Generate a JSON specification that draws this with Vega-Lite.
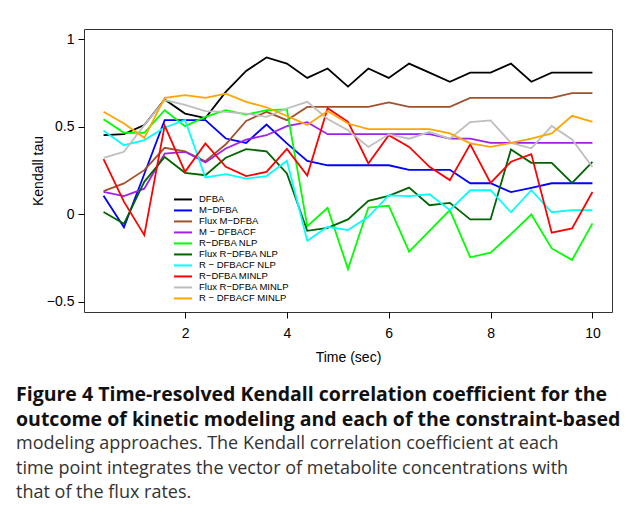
{
  "$schema": "https://vega.github.io/schema/vega-lite/v6.json",
  "width": 528,
  "height": 283,
  "autosize": {"type": "none"},
  "padding": {"left": 84, "top": 29, "right": 17, "bottom": 204},
  "background": "white",
  "config": {
    "view": {"stroke": "#333333", "strokeWidth": 1},
    "font": "Liberation Sans"
  },
  "title": {
    "text": ["Figure 4 Time-resolved Kendall correlation coefficient for the", "outcome of kinetic modeling and each of the constraint-based"],
    "subtitle": ["modeling approaches. The Kendall correlation coefficient at each", "time point integrates the vector of metabolite concentrations with", "that of the flux rates."],
    "orient": "bottom",
    "anchor": "start",
    "frame": "group",
    "dx": -68,
    "offset": 22,
    "font": "Open Sans",
    "fontSize": 19.5,
    "fontWeight": "bold",
    "lineHeight": 24.5,
    "color": "#111111",
    "subtitleFont": "Open Sans",
    "subtitleFontSize": 18,
    "subtitleFontWeight": "normal",
    "subtitleLineHeight": 24.5,
    "subtitleColor": "#333333",
    "subtitlePadding": 5
  },
  "data": {
    "values": [
      {"t": 0.4, "DFBA": 0.452, "M−DFBA": 0.105, "Flux M−DFBA": 0.132, "M − DFBACF": 0.127, "R−DFBA NLP": 0.544, "Flux R−DFBA NLP": 0.012, "R − DFBACF NLP": 0.477, "R−DFBA MINLP": 0.315, "Flux R−DFBA MINLP": 0.322, "R − DFBACF MINLP": 0.586},
      {"t": 0.8, "DFBA": 0.458, "M−DFBA": -0.075, "Flux M−DFBA": 0.176, "M − DFBACF": 0.103, "R−DFBA NLP": 0.466, "Flux R−DFBA NLP": -0.055, "R − DFBACF NLP": 0.395, "R−DFBA MINLP": 0.072, "Flux R−DFBA MINLP": 0.357, "R − DFBACF MINLP": 0.519},
      {"t": 1.2, "DFBA": 0.51, "M−DFBA": 0.23, "Flux M−DFBA": 0.252, "M − DFBACF": 0.146, "R−DFBA NLP": 0.466, "Flux R−DFBA NLP": 0.185, "R − DFBACF NLP": 0.424, "R−DFBA MINLP": -0.12, "Flux R−DFBA MINLP": 0.51, "R − DFBACF MINLP": 0.437},
      {"t": 1.6, "DFBA": 0.657, "M−DFBA": 0.538, "Flux M−DFBA": 0.38, "M − DFBACF": 0.347, "R−DFBA NLP": 0.595, "Flux R−DFBA NLP": 0.327, "R − DFBACF NLP": 0.496, "R−DFBA MINLP": 0.507, "Flux R−DFBA MINLP": 0.653, "R − DFBACF MINLP": 0.666},
      {"t": 2.0, "DFBA": 0.576, "M−DFBA": 0.538, "Flux M−DFBA": 0.36, "M − DFBACF": 0.357, "R−DFBA NLP": 0.504, "Flux R−DFBA NLP": 0.237, "R − DFBACF NLP": 0.538, "R−DFBA MINLP": 0.242, "Flux R−DFBA MINLP": 0.625, "R − DFBACF MINLP": 0.681},
      {"t": 2.4, "DFBA": 0.55, "M−DFBA": 0.538, "Flux M−DFBA": 0.303, "M − DFBACF": 0.296, "R−DFBA NLP": 0.557, "Flux R−DFBA NLP": 0.223, "R − DFBACF NLP": 0.21, "R−DFBA MINLP": 0.405, "Flux R−DFBA MINLP": 0.59, "R − DFBACF MINLP": 0.666},
      {"t": 2.8, "DFBA": 0.70, "M−DFBA": 0.433, "Flux M−DFBA": 0.40, "M − DFBACF": 0.376, "R−DFBA NLP": 0.595, "Flux R−DFBA NLP": 0.323, "R − DFBACF NLP": 0.229, "R−DFBA MINLP": 0.271, "Flux R−DFBA MINLP": 0.586, "R − DFBACF MINLP": 0.69},
      {"t": 3.2, "DFBA": 0.82, "M−DFBA": 0.408, "Flux M−DFBA": 0.534, "M − DFBACF": 0.427, "R−DFBA NLP": 0.57, "Flux R−DFBA NLP": 0.372, "R − DFBACF NLP": 0.204, "R−DFBA MINLP": 0.218, "Flux R−DFBA MINLP": 0.576, "R − DFBACF MINLP": 0.643},
      {"t": 3.6, "DFBA": 0.897, "M−DFBA": 0.513, "Flux M−DFBA": 0.586, "M − DFBACF": 0.452, "R−DFBA NLP": 0.595, "Flux R−DFBA NLP": 0.36, "R − DFBACF NLP": 0.218, "R−DFBA MINLP": 0.242, "Flux R−DFBA MINLP": 0.557, "R − DFBACF MINLP": 0.612},
      {"t": 4.0, "DFBA": 0.862, "M−DFBA": 0.405, "Flux M−DFBA": 0.538, "M − DFBACF": 0.504, "R−DFBA NLP": 0.60, "Flux R−DFBA NLP": 0.233, "R − DFBACF NLP": 0.305, "R−DFBA MINLP": 0.373, "Flux R−DFBA MINLP": 0.605, "R − DFBACF MINLP": 0.562},
      {"t": 4.4, "DFBA": 0.78, "M−DFBA": 0.305, "Flux M−DFBA": 0.614, "M − DFBACF": 0.527, "R−DFBA NLP": -0.069, "Flux R−DFBA NLP": -0.095, "R − DFBACF NLP": -0.152, "R−DFBA MINLP": 0.221, "Flux R−DFBA MINLP": 0.643, "R − DFBACF MINLP": 0.511},
      {"t": 4.8, "DFBA": 0.834, "M−DFBA": 0.28, "Flux M−DFBA": 0.614, "M − DFBACF": 0.458, "R−DFBA NLP": 0.036, "Flux R−DFBA NLP": -0.078, "R − DFBACF NLP": -0.072, "R−DFBA MINLP": 0.607, "Flux R−DFBA MINLP": 0.545, "R − DFBACF MINLP": 0.59},
      {"t": 5.2, "DFBA": 0.73, "M−DFBA": 0.28, "Flux M−DFBA": 0.614, "M − DFBACF": 0.458, "R−DFBA NLP": -0.314, "Flux R−DFBA NLP": -0.03, "R − DFBACF NLP": -0.091, "R−DFBA MINLP": 0.529, "Flux R−DFBA MINLP": 0.48, "R − DFBACF MINLP": 0.519},
      {"t": 5.6, "DFBA": 0.834, "M−DFBA": 0.28, "Flux M−DFBA": 0.614, "M − DFBACF": 0.458, "R−DFBA NLP": 0.038, "Flux R−DFBA NLP": 0.076, "R − DFBACF NLP": -0.015, "R−DFBA MINLP": 0.29, "Flux R−DFBA MINLP": 0.385, "R − DFBACF MINLP": 0.487},
      {"t": 6.0, "DFBA": 0.78, "M−DFBA": 0.28, "Flux M−DFBA": 0.64, "M − DFBACF": 0.458, "R−DFBA NLP": 0.049, "Flux R−DFBA NLP": 0.105, "R − DFBACF NLP": 0.108, "R−DFBA MINLP": 0.452, "Flux R−DFBA MINLP": 0.457, "R − DFBACF MINLP": 0.487},
      {"t": 6.4, "DFBA": 0.862, "M−DFBA": 0.254, "Flux M−DFBA": 0.614, "M − DFBACF": 0.458, "R−DFBA NLP": -0.215, "Flux R−DFBA NLP": 0.152, "R − DFBACF NLP": 0.103, "R−DFBA MINLP": 0.385, "Flux R−DFBA MINLP": 0.432, "R − DFBACF MINLP": 0.487},
      {"t": 6.8, "DFBA": 0.81, "M−DFBA": 0.254, "Flux M−DFBA": 0.614, "M − DFBACF": 0.458, "R−DFBA NLP": -0.095, "Flux R−DFBA NLP": 0.051, "R − DFBACF NLP": 0.114, "R−DFBA MINLP": 0.271, "Flux R−DFBA MINLP": 0.47, "R − DFBACF MINLP": 0.487},
      {"t": 7.2, "DFBA": 0.758, "M−DFBA": 0.254, "Flux M−DFBA": 0.614, "M − DFBACF": 0.433, "R−DFBA NLP": 0.023, "Flux R−DFBA NLP": 0.065, "R − DFBACF NLP": 0.023, "R−DFBA MINLP": 0.195, "Flux R−DFBA MINLP": 0.432, "R − DFBACF MINLP": 0.462},
      {"t": 7.6, "DFBA": 0.81, "M−DFBA": 0.177, "Flux M−DFBA": 0.666, "M − DFBACF": 0.433, "R−DFBA NLP": -0.247, "Flux R−DFBA NLP": -0.03, "R − DFBACF NLP": 0.137, "R−DFBA MINLP": 0.40, "Flux R−DFBA MINLP": 0.527, "R − DFBACF MINLP": 0.405},
      {"t": 8.0, "DFBA": 0.81, "M−DFBA": 0.177, "Flux M−DFBA": 0.666, "M − DFBACF": 0.408, "R−DFBA NLP": -0.22, "Flux R−DFBA NLP": -0.03, "R − DFBACF NLP": 0.137, "R−DFBA MINLP": 0.179, "Flux R−DFBA MINLP": 0.537, "R − DFBACF MINLP": 0.385},
      {"t": 8.4, "DFBA": 0.862, "M−DFBA": 0.126, "Flux M−DFBA": 0.666, "M − DFBACF": 0.408, "R−DFBA NLP": -0.114, "Flux R−DFBA NLP": 0.37, "R − DFBACF NLP": 0.011, "R−DFBA MINLP": 0.30, "Flux R−DFBA MINLP": 0.408, "R − DFBACF MINLP": 0.408},
      {"t": 8.8, "DFBA": 0.758, "M−DFBA": 0.151, "Flux M−DFBA": 0.666, "M − DFBACF": 0.408, "R−DFBA NLP": -0.002, "Flux R−DFBA NLP": 0.294, "R − DFBACF NLP": 0.137, "R−DFBA MINLP": 0.344, "Flux R−DFBA MINLP": 0.377, "R − DFBACF MINLP": 0.433},
      {"t": 9.2, "DFBA": 0.81, "M−DFBA": 0.177, "Flux M−DFBA": 0.666, "M − DFBACF": 0.408, "R−DFBA NLP": -0.196, "Flux R−DFBA NLP": 0.294, "R − DFBACF NLP": 0.011, "R−DFBA MINLP": -0.106, "Flux R−DFBA MINLP": 0.505, "R − DFBACF MINLP": 0.462},
      {"t": 9.6, "DFBA": 0.81, "M−DFBA": 0.177, "Flux M−DFBA": 0.693, "M − DFBACF": 0.408, "R−DFBA NLP": -0.262, "Flux R−DFBA NLP": 0.179, "R − DFBACF NLP": 0.023, "R−DFBA MINLP": -0.082, "Flux R−DFBA MINLP": 0.428, "R − DFBACF MINLP": 0.563},
      {"t": 10.0, "DFBA": 0.81, "M−DFBA": 0.177, "Flux M−DFBA": 0.693, "M − DFBACF": 0.408, "R−DFBA NLP": -0.053, "Flux R−DFBA NLP": 0.30, "R − DFBACF NLP": 0.023, "R−DFBA MINLP": 0.127, "Flux R−DFBA MINLP": 0.27, "R − DFBACF MINLP": 0.529}
    ]
  },
  "transform": [
    {"fold": ["DFBA", "M−DFBA", "Flux M−DFBA", "M − DFBACF", "R−DFBA NLP", "Flux R−DFBA NLP", "R − DFBACF NLP", "R−DFBA MINLP", "Flux R−DFBA MINLP", "R − DFBACF MINLP"], "as": ["series", "tau"]}
  ],
  "mark": {"type": "line", "strokeWidth": 1.8},
  "encoding": {
    "x": {
      "field": "t",
      "type": "quantitative",
      "scale": {"domain": [0.016, 10.384], "nice": false, "zero": false},
      "axis": {
        "values": [2, 4, 6, 8, 10],
        "title": "Time (sec)",
        "grid": false,
        "domain": false,
        "tickSize": 6,
        "tickColor": "#000000",
        "labelFontSize": 14,
        "labelPadding": 8,
        "labelColor": "#000000",
        "titleFontSize": 14,
        "titleFontWeight": "normal",
        "titleColor": "#000000",
        "titlePadding": 10
      }
    },
    "y": {
      "field": "tau",
      "type": "quantitative",
      "scale": {"domain": [-0.56, 1.06], "nice": false, "zero": false},
      "axis": {
        "values": [-0.5, 0, 0.5, 1],
        "format": "~g",
        "title": "Kendall tau",
        "grid": false,
        "domain": false,
        "tickSize": 6,
        "tickColor": "#000000",
        "labelFontSize": 14,
        "labelPadding": 4,
        "labelColor": "#000000",
        "titleFontSize": 14,
        "titleFontWeight": "normal",
        "titleColor": "#000000",
        "titlePadding": 1
      }
    },
    "color": {
      "field": "series",
      "type": "nominal",
      "scale": {
        "domain": ["DFBA", "M−DFBA", "Flux M−DFBA", "M − DFBACF", "R−DFBA NLP", "Flux R−DFBA NLP", "R − DFBACF NLP", "R−DFBA MINLP", "Flux R−DFBA MINLP", "R − DFBACF MINLP"],
        "range": ["#000000", "#0000FF", "#A0522D", "#A020F0", "#00FF00", "#006400", "#00FFFF", "#FF0000", "#BEBEBE", "#FFA500"]
      },
      "legend": {
        "orient": "none",
        "legendX": 89,
        "legendY": 165,
        "title": null,
        "padding": 0,
        "symbolType": "stroke",
        "symbolSize": 324,
        "symbolStrokeWidth": 2,
        "clipHeight": 10.9,
        "rowPadding": 0,
        "labelFontSize": 9.5,
        "labelColor": "#000000",
        "labelOffset": 6
      }
    }
  }
}
